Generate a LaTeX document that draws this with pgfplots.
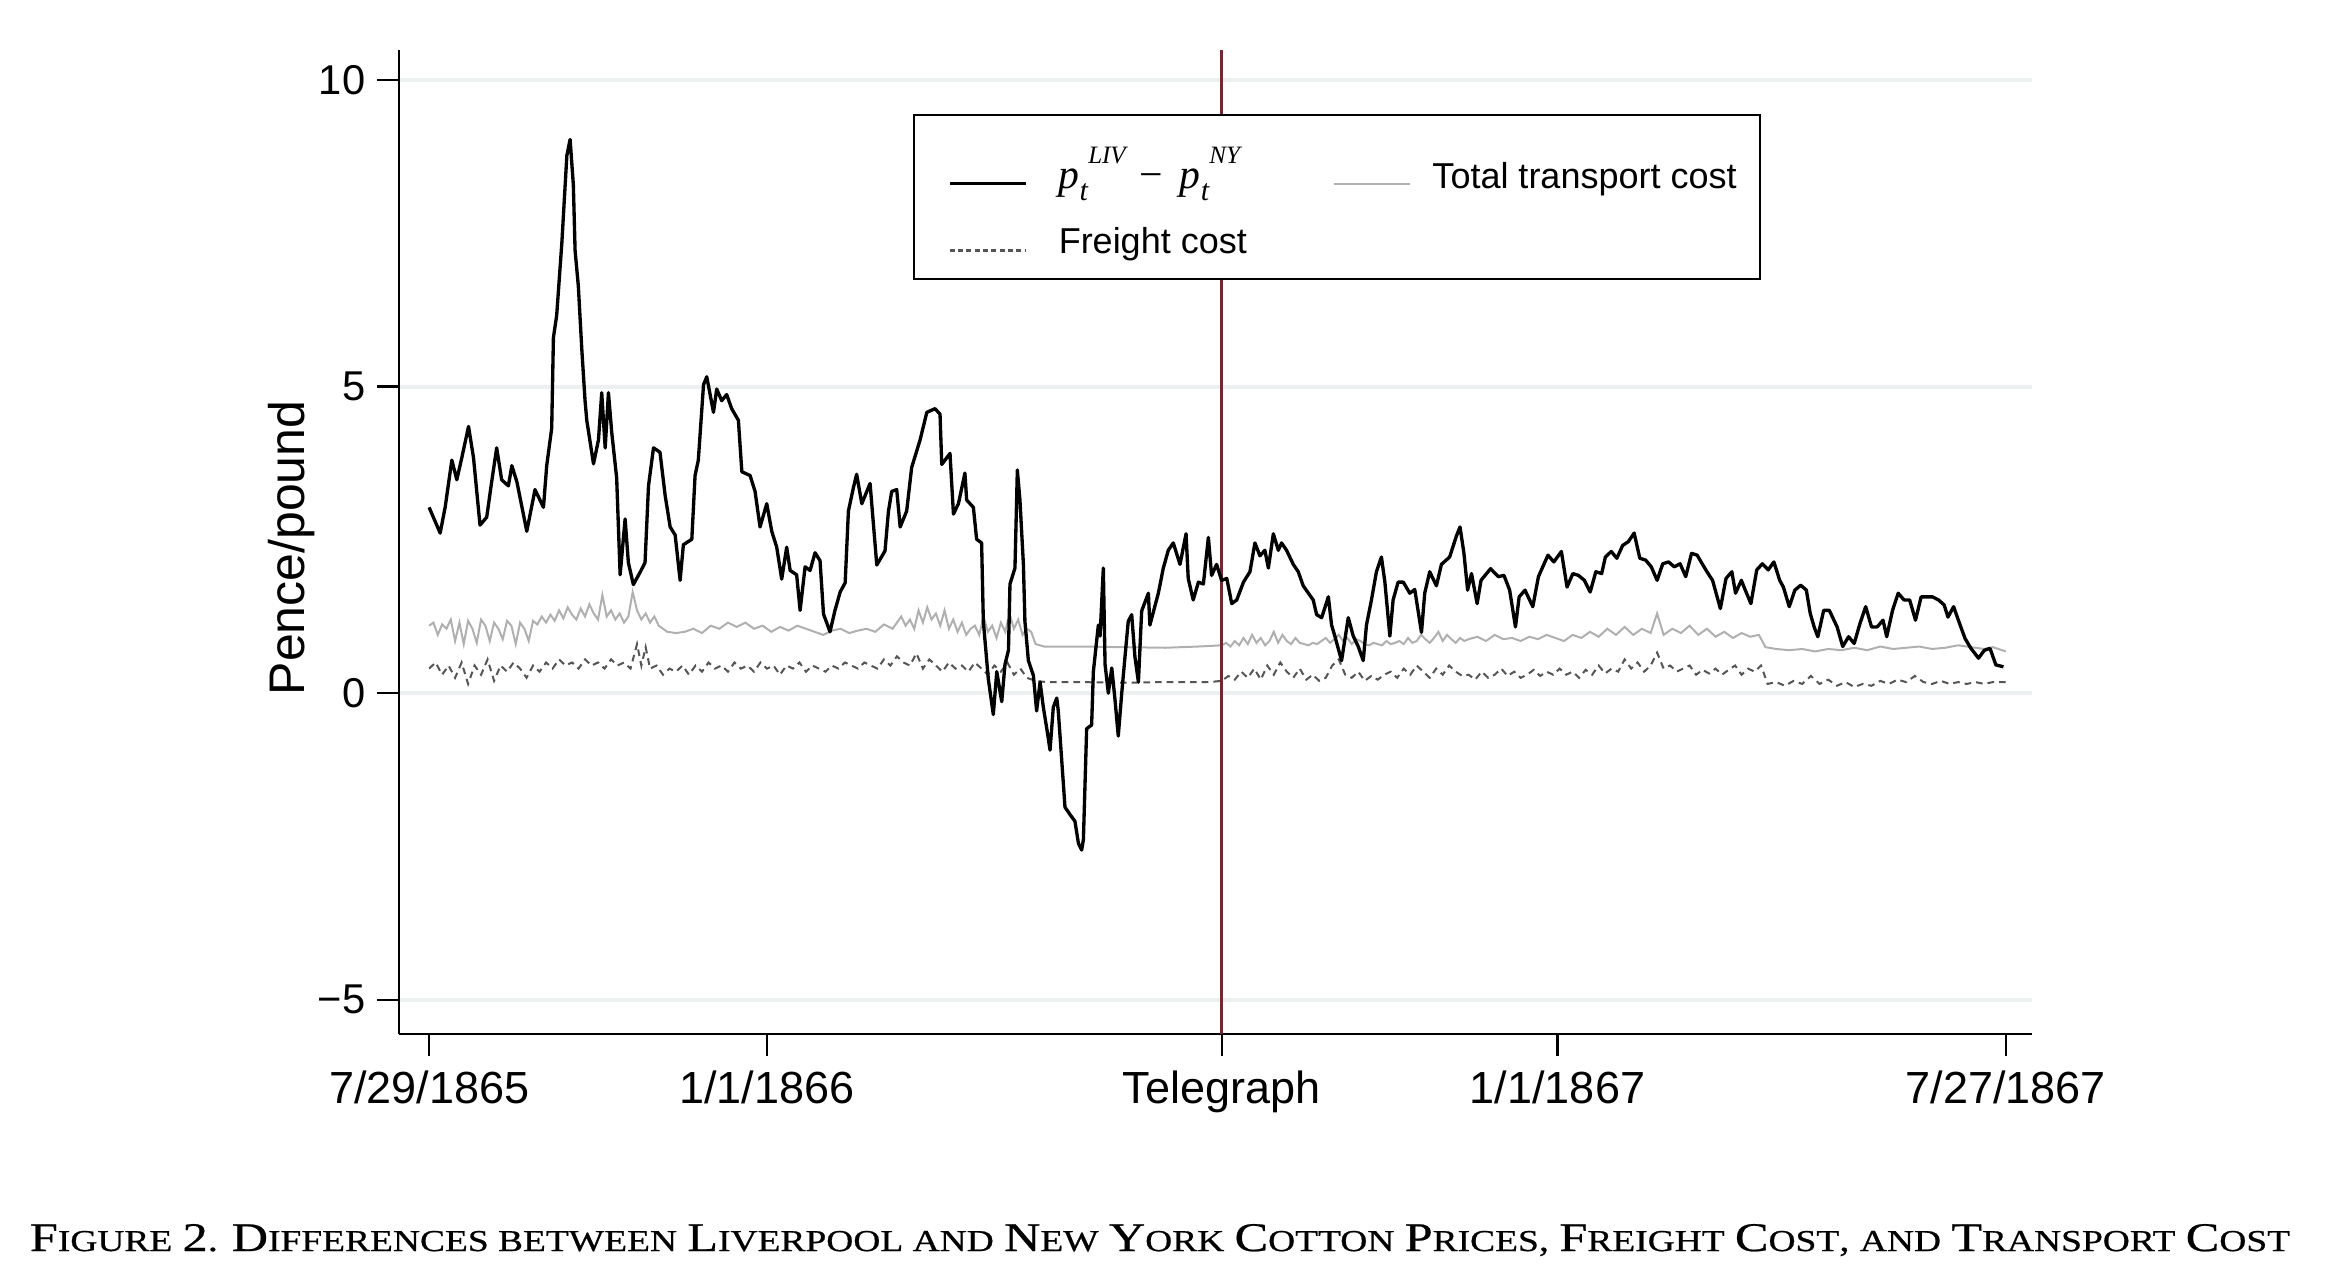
\documentclass[border=0pt]{standalone}
\usepackage{pgfplots}
\usepackage{pgfplotstable}
\pgfplotsset{compat=1.18}
\usepackage{fontspec}
\setmainfont{Liberation Sans}
\newfontfamily\capfont{Liberation Serif}
\newfontfamily\capboldfont[FakeBold=0.6]{Liberation Serif}
\definecolor{telred}{RGB}{112,40,52}
\definecolor{gridc}{RGB}{236,240,241}
\definecolor{totc}{RGB}{176,176,176}
\definecolor{frc}{RGB}{85,85,85}

\pgfplotstableread{
d v
0 3.03
5.1 2.61
7.4 3.03
10.5 3.80
12.8 3.48
15.1 3.84
18.2 4.35
20.5 3.84
23.5 2.74
26.6 2.87
28.9 3.45
31.2 4.00
33.5 3.48
36.6 3.38
38.2 3.71
40.5 3.45
45.1 2.64
48.9 3.32
52.8 3.03
54.3 3.71
56.6 4.32
57.4 5.80
58.9 6.16
61.3 7.35
63.6 8.77
65.1 9.03
66.6 8.29
67.4 7.22
68.9 6.64
70.5 5.61
72.0 4.77
72.8 4.45
75.9 3.74
78.2 4.13
79.7 4.90
81.3 4.00
82.8 4.90
84.3 4.26
86.6 3.51
88.2 1.93
90.5 2.84
92.0 2.13
94.3 1.77
97.4 1.97
99.7 2.13
101.3 3.38
103.6 4.00
106.6 3.93
109.0 3.22
111.3 2.71
113.6 2.58
115.9 1.84
117.4 2.42
121.3 2.51
122.8 3.55
124.3 3.80
126.7 5.03
128.2 5.16
131.3 4.58
132.8 4.96
135.1 4.77
137.4 4.87
139.7 4.64
142.8 4.45
144.4 3.61
148.2 3.55
150.5 3.29
152.8 2.71
155.9 3.09
158.2 2.64
160.5 2.38
162.8 1.86
165.1 2.38
166.7 2.00
169.7 1.93
171.3 1.35
173.6 2.06
175.9 2.00
178.2 2.29
180.5 2.16
182.1 1.29
185.1 1.00
187.4 1.35
189.8 1.65
192.1 1.80
193.6 2.97
195.9 3.35
197.4 3.57
199.8 3.09
203.6 3.42
206.7 2.09
210.5 2.32
212.1 2.97
213.6 3.29
215.9 3.32
217.5 2.71
220.5 2.97
222.8 3.68
226.7 4.13
229.8 4.58
233.6 4.64
235.9 4.55
236.7 3.73
240.5 3.91
242.1 2.92
244.4 3.09
247.4 3.59
248.2 3.15
251.3 3.03
252.8 2.51
255.1 2.45
255.9 1.17
258.2 0.23
260.5 -0.35
262.1 0.35
264.4 -0.14
265.9 0.47
267.5 0.70
268.2 1.78
270.5 2.04
271.6 3.64
272.8 3.15
274.4 2.10
275.1 1.17
276.7 0.53
279.0 0.29
280.5 -0.29
282.1 0.18
283.6 -0.23
285.2 -0.58
286.7 -0.93
288.2 -0.23
289.8 -0.08
290.5 -0.29
292.1 -1.10
293.6 -1.86
295.9 -1.98
298.2 -2.09
299.8 -2.45
301.3 -2.56
302.1 -2.39
303.6 -0.58
305.9 -0.52
306.7 0.35
309.0 1.11
309.8 0.93
311.3 2.04
312.1 0.47
313.6 0.00
315.2 0.41
316.7 -0.11
318.2 -0.70
319.8 0.00
321.3 0.59
322.8 1.17
324.4 1.28
325.9 0.59
327.5 0.18
329.0 1.34
332.1 1.63
332.8 1.11
336.7 1.63
339.0 2.04
341.3 2.33
343.6 2.45
346.7 2.10
349.5 2.60
350.5 1.87
352.8 1.52
355.2 1.81
357.5 1.78
359.8 2.54
361.3 1.92
363.6 2.10
365.9 1.84
368.3 1.87
370.6 1.46
372.9 1.52
376.0 1.81
379.0 1.98
381.3 2.45
383.6 2.24
385.9 2.33
387.5 2.04
389.8 2.60
392.1 2.33
393.6 2.45
395.9 2.33
399.0 2.10
401.3 1.98
403.6 1.75
408.2 1.52
409.8 1.28
412.1 1.23
415.2 1.57
416.7 1.11
418.2 0.93
421.3 0.53
424.4 1.23
426.7 0.93
429.0 0.76
431.3 0.53
432.8 1.11
435.1 1.52
437.4 1.98
439.7 2.22
441.3 1.81
443.6 0.93
445.1 1.52
447.4 1.81
449.8 1.81
452.8 1.63
455.1 1.69
458.2 0.99
459.7 1.63
462.0 1.98
465.1 1.75
467.4 2.10
471.2 2.22
474.3 2.56
476.0 2.71
477.8 2.28
479.5 1.68
481.3 1.95
483.9 1.46
485.7 1.84
490.1 2.03
493.7 1.90
496.3 1.92
498.9 1.68
501.6 1.08
503.3 1.57
506.0 1.68
509.6 1.41
512.2 1.90
516.6 2.25
519.3 2.14
522.8 2.31
525.4 1.73
528.1 1.95
530.7 1.92
533.4 1.84
536.1 1.65
538.7 1.98
541.4 1.95
543.1 2.22
545.8 2.31
548.4 2.20
551.1 2.41
553.7 2.47
556.4 2.61
559.0 2.20
561.7 2.17
564.3 2.06
567.0 1.84
569.6 2.11
572.3 2.14
574.9 2.06
577.6 2.11
580.2 1.90
582.9 2.28
585.5 2.25
587.3 2.14
590.0 1.98
592.6 1.84
596.2 1.38
598.8 1.87
601.5 1.98
603.2 1.63
605.9 1.84
607.7 1.68
610.3 1.46
613.0 2.01
615.6 2.11
618.3 2.01
620.9 2.14
623.6 1.84
625.3 1.73
628.0 1.41
630.6 1.68
633.3 1.76
635.9 1.68
637.7 1.30
639.5 1.08
641.2 0.92
643.9 1.35
646.5 1.35
650.1 1.08
652.7 0.76
655.4 0.92
658.0 0.81
660.7 1.14
663.3 1.41
666.0 1.08
668.6 1.08
671.3 1.19
673.0 0.92
675.7 1.35
678.3 1.63
681.0 1.52
683.6 1.52
686.3 1.19
688.9 1.57
691.6 1.57
694.2 1.57
696.9 1.52
699.5 1.44
701.3 1.24
703.9 1.41
706.6 1.14
709.2 0.89
711.9 0.73
715.4 0.57
718.1 0.70
720.7 0.73
723.4 0.46
726.9 0.43
}\diffdata

\pgfplotstableread{
d v
0 1.10
2 1.15
4 0.95
6 1.12
8 1.05
10 1.20
12 0.85
14 1.15
16 0.80
18 1.18
20 1.05
22 0.82
24 1.20
26 1.10
28 0.85
30 1.15
32 1.05
34 0.88
36 1.18
38 1.10
40 0.80
42 1.15
44 1.05
46 0.85
48 1.18
50 1.12
52 1.25
54 1.15
56 1.28
58 1.18
60 1.35
62 1.22
64 1.40
66 1.28
68 1.20
70 1.38
72 1.25
74 1.45
76 1.30
78 1.20
80 1.60
82 1.25
84 1.35
86 1.20
88 1.30
90 1.15
92 1.25
94 1.65
96 1.35
98 1.20
100 1.30
102 1.15
104 1.25
106 1.10
108 1.05
110 1.00
114 0.98
118 1.00
122 1.05
126 0.98
130 1.10
134 1.05
138 1.15
142 1.08
146 1.15
150 1.05
154 1.10
158 1.00
162 1.08
166 1.02
170 1.10
174 1.05
178 1.00
182 0.95
186 1.02
190 1.05
194 0.98
198 1.02
202 1.05
206 1.00
210 1.12
214 1.05
218 1.25
220 1.10
222 1.20
224 1.05
226 1.35
228 1.15
230 1.40
232 1.20
234 1.30
236 1.10
238 1.35
240 1.05
242 1.20
244 1.00
246 1.15
248 0.95
250 1.05
252 1.10
254 0.95
256 1.25
258 1.00
260 1.10
262 0.90
264 1.15
266 1.00
268 1.30
270 1.05
272 1.20
274 0.95
276 1.05
278 1.00
280 0.80
284 0.76
300 0.76
320 0.75
340 0.74
355 0.76
366 0.78
368 0.82
370 0.76
372 0.85
374 0.78
376 0.90
378 0.80
380 0.95
382 0.82
384 0.90
386 0.78
388 0.85
390 1.00
392 0.82
394 0.95
396 0.85
398 0.80
400 0.90
402 0.82
404 0.80
406 0.78
408 0.82
410 0.80
412 0.85
414 0.90
416 0.82
418 0.88
420 0.95
422 0.85
424 0.90
426 0.80
428 0.88
430 0.85
432 0.80
434 0.78
436 0.82
438 0.80
440 0.78
442 0.85
444 0.80
446 0.82
448 0.85
450 0.80
452 0.90
454 0.82
456 0.85
458 0.95
460 0.88
462 0.82
464 0.90
466 1.00
468 0.85
470 0.95
472 0.88
474 0.82
476 0.90
478 0.85
480 0.88
484 0.92
488 0.85
492 0.95
496 0.88
500 0.90
504 0.85
508 0.92
512 0.88
516 0.95
520 0.90
524 0.85
528 0.95
532 0.90
536 1.00
540 0.92
544 1.05
548 0.95
552 1.08
556 0.95
560 1.05
564 0.98
567 1.30
570 0.95
574 1.05
578 0.98
582 1.10
586 0.95
590 1.05
594 0.92
598 1.00
602 0.90
606 0.98
610 0.92
614 0.95
617 0.75
622 0.72
628 0.70
634 0.72
640 0.68
646 0.72
652 0.70
658 0.74
664 0.70
670 0.76
676 0.72
682 0.74
688 0.76
694 0.72
700 0.74
706 0.78
712 0.75
718 0.72
722 0.75
728 0.68
}\totdata

\pgfplotstableread{
d v
0 0.40
3 0.50
6 0.30
9 0.45
12 0.25
15 0.50
18 0.15
21 0.45
24 0.30
27 0.55
30 0.20
33 0.45
36 0.35
39 0.50
42 0.40
45 0.25
48 0.45
51 0.35
54 0.50
57 0.40
60 0.55
63 0.45
66 0.50
69 0.40
72 0.55
75 0.45
78 0.50
81 0.40
84 0.55
87 0.45
90 0.50
93 0.40
96 0.80
98 0.45
100 0.75
102 0.40
105 0.45
108 0.30
111 0.40
114 0.35
117 0.45
120 0.30
123 0.45
126 0.35
129 0.50
132 0.40
135 0.45
138 0.35
141 0.50
144 0.40
147 0.45
150 0.35
153 0.50
156 0.40
159 0.45
162 0.30
165 0.45
168 0.40
171 0.50
174 0.35
177 0.45
180 0.40
183 0.35
186 0.45
189 0.40
192 0.50
195 0.45
198 0.40
201 0.50
204 0.45
207 0.40
210 0.55
213 0.45
216 0.60
219 0.50
222 0.45
225 0.65
228 0.40
231 0.55
234 0.45
237 0.35
240 0.50
243 0.40
246 0.45
249 0.35
252 0.50
255 0.40
258 0.30
261 0.45
264 0.35
267 0.50
270 0.30
273 0.40
276 0.25
280 0.20
285 0.18
300 0.18
320 0.17
340 0.18
360 0.18
366 0.20
369 0.28
372 0.22
375 0.35
378 0.25
381 0.40
384 0.22
387 0.45
390 0.30
393 0.50
396 0.35
399 0.25
402 0.40
405 0.22
408 0.30
411 0.20
414 0.25
417 0.45
420 0.55
423 0.30
426 0.25
429 0.35
432 0.20
435 0.28
438 0.22
441 0.30
444 0.35
447 0.25
450 0.40
453 0.30
456 0.45
459 0.35
462 0.25
465 0.40
468 0.30
471 0.45
474 0.35
477 0.28
480 0.30
483 0.22
486 0.35
489 0.25
492 0.30
495 0.40
498 0.28
501 0.35
504 0.25
507 0.30
510 0.38
513 0.28
516 0.35
519 0.30
522 0.40
525 0.30
528 0.35
531 0.25
534 0.38
537 0.30
540 0.45
543 0.32
546 0.40
549 0.35
552 0.55
555 0.40
558 0.50
561 0.35
564 0.45
567 0.66
570 0.40
573 0.45
576 0.35
579 0.40
582 0.45
585 0.30
588 0.38
591 0.32
594 0.40
597 0.30
600 0.38
603 0.45
606 0.30
609 0.40
612 0.35
615 0.45
618 0.15
622 0.18
626 0.12
630 0.20
634 0.15
638 0.28
642 0.15
646 0.22
650 0.12
654 0.18
658 0.10
662 0.15
666 0.12
670 0.20
674 0.15
678 0.22
682 0.18
686 0.28
690 0.18
694 0.15
698 0.20
702 0.15
706 0.18
710 0.15
714 0.18
718 0.15
722 0.18
728 0.18
}\frdata

\newcommand\bc[1]{{\fontsize{12.2pt}{13pt}\selectfont #1}}
\newcommand\sq[1]{{\fontsize{9.1pt}{10pt}\selectfont #1}}
% p with subscript t and a raised superscript
\newcommand\pvar[1]{{\capfont\itshape\fontsize{12.5pt}{13pt}\selectfont p}\rlap{\raisebox{-3.6pt}{\capfont\itshape\fontsize{9pt}{9pt}\selectfont t}}\hspace{2.6pt}\raisebox{7.5pt}{\capfont\itshape\fontsize{7.5pt}{7.5pt}\selectfont #1}}

\begin{document}
\begin{tikzpicture}
\useasboundingbox (0,0) rectangle (697.8pt,383.4pt);
\begin{axis}[
  at={(119.7pt,73.2pt)}, anchor=south west,
  scale only axis, width=489.9pt, height=295.2pt,
  xmin=-13.9, xmax=740.1, ymin=-5.56, ymax=10.49,
  axis lines*=left,
  axis line style={line width=0.7pt, black},
  tick style={line width=0.7pt, black},
  major tick length=6.6pt, tick align=outside,
  xtick={0,156,366,521,728},
  xticklabels={7/29/1865,1/1/1866,Telegraph,1/1/1867,7/27/1867},
  ytick={-5,0,5,10},
  yticklabels={−5,0,5,10},
  xticklabel style={font=\fontsize{13.5pt}{15pt}\selectfont, yshift=-1pt},
  yticklabel style={font=\fontsize{12.5pt}{14pt}\selectfont},
  ymajorgrids,
  major grid style={line width=1.2pt, gridc},
  ylabel={Pence/pound},
  every axis y label/.style={at={(axis description cs:-0.0655,0.494)}, rotate=90, anchor=center, font=\fontsize{15pt}{17pt}\selectfont},
  legend columns=2,
  legend image code/.code={\path (-3.2pt,0pt); \draw[#1] (0pt,1.5pt) -- (23pt,1.5pt);},
  legend style={at={(axis description cs:0.3148,0.935)}, anchor=north west,
    draw=black, line width=0.6pt, inner xsep=7pt, inner ysep=0pt,
    cells={anchor=base west},
    nodes={inner sep=0pt, text depth=},
    font=\fontsize{10.8pt}{13pt}\selectfont,
    /tikz/every odd column/.append style={column sep=6.3pt},
    /tikz/every even column/.append style={column sep=22.5pt},
    row sep=0pt},
]
\addlegendimage{black, line width=0.9pt}
\addlegendentry{\rule[-9.5pt]{0pt}{31.7pt}\hspace{3pt}\pvar{LIV}\hspace{4.2pt}{\capfont\fontsize{12.5pt}{13pt}\selectfont −}\hspace{5pt}\pvar{NY}}
\addlegendimage{totc, line width=0.7pt}
\addlegendentry{Total transport cost}
\addlegendimage{frc, line width=0.7pt, dash pattern=on 1.5pt off 1pt, yshift=-0.5pt}
\addlegendentry{\rule[-7.5pt]{0pt}{17.5pt}\hspace{3pt}Freight cost}

\addplot[frc, line width=0.6pt, dash pattern=on 2pt off 1.5pt, forget plot] table[x=d,y=v] {\frdata};
\addplot[totc, line width=0.6pt, forget plot] table[x=d,y=v] {\totdata};
\addplot[telred, line width=0.9pt, forget plot] coordinates {(366,-5.56) (366,10.49)};
\addplot[black, line width=1.0pt, line join=round, forget plot] table[x=d,y=v] {\diffdata};
\end{axis}
\node[anchor=base, font=\capboldfont] at (348pt,8.1pt) {\resizebox{678pt}{\height}{\bc{F}\sq{IGURE} \bc{2}. \bc{D}\sq{IFFERENCES BETWEEN} \bc{L}\sq{IVERPOOL AND} \bc{N}\sq{EW} \bc{Y}\sq{ORK} \bc{C}\sq{OTTON} \bc{P}\sq{RICES}, \bc{F}\sq{REIGHT} \bc{C}\sq{OST}, \sq{AND} \bc{T}\sq{RANSPORT} \bc{C}\sq{OST}}};
\end{tikzpicture}
\end{document}
